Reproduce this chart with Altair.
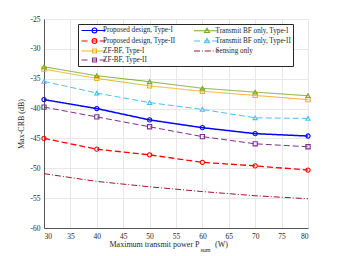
import altair as alt
import pandas as pd

power = [30, 40, 50, 60, 70, 80]
series_names = [
    "Proposed design, Type-I",
    "Proposed design, Type-II",
    "ZF-BF, Type-I",
    "ZF-BF, Type-II",
    "Transmit BF only, Type-I",
    "Transmit BF only, Type-II",
    "Sensing only",
]
prop1 = [-38.5, -40.0, -41.9, -43.2, -44.2, -44.6]
prop2 = [-45.0, -46.8, -47.75, -49.0, -49.6, -50.3]
zf1 = [-33.4, -34.95, -36.2, -37.1, -37.8, -38.5]
zf2 = [-39.75, -41.4, -43.05, -44.7, -45.9, -46.4]
tbf1 = [-33.0, -34.5, -35.5, -36.6, -37.25, -37.85]
tbf2 = [-35.45, -37.4, -39.0, -40.15, -41.55, -41.65]
sens = [-50.9, -52.2, -53.1, -53.9, -54.6, -55.1]

values = {
    "Proposed design, Type-I": prop1,
    "Proposed design, Type-II": prop2,
    "ZF-BF, Type-I": zf1,
    "ZF-BF, Type-II": zf2,
    "Transmit BF only, Type-I": tbf1,
    "Transmit BF only, Type-II": tbf2,
    "Sensing only": sens,
}
colors = {
    "Proposed design, Type-I": "#0000FF",
    "Proposed design, Type-II": "#FF0000",
    "ZF-BF, Type-I": "#EDB120",
    "ZF-BF, Type-II": "#7E2F8E",
    "Transmit BF only, Type-I": "#77AC30",
    "Transmit BF only, Type-II": "#4DBEEE",
    "Sensing only": "#A2142F",
}
dashes = {
    "Proposed design, Type-I": [1, 0],
    "Proposed design, Type-II": [6, 3],
    "ZF-BF, Type-I": [1, 0],
    "ZF-BF, Type-II": [6, 3],
    "Transmit BF only, Type-I": [1, 0],
    "Transmit BF only, Type-II": [6, 3],
    "Sensing only": [6, 2, 1, 2],
}
widths = {
    "Proposed design, Type-I": 1.5,
    "Proposed design, Type-II": 1.3,
    "ZF-BF, Type-I": 1.0,
    "ZF-BF, Type-II": 1.0,
    "Transmit BF only, Type-I": 1.0,
    "Transmit BF only, Type-II": 1.0,
    "Sensing only": 1.0,
}
markers = {
    "Proposed design, Type-I": "circle",
    "Proposed design, Type-II": "circle",
    "ZF-BF, Type-I": "square",
    "ZF-BF, Type-II": "square",
    "Transmit BF only, Type-I": "triangle-up",
    "Transmit BF only, Type-II": "triangle-up",
}

# legend glyphs (line + marker) as custom symbol paths, drawn in pixels then scaled to unit space
SYM = 49
K = (SYM ** 0.5) / 2.0
OFF = -1.5  # glyph shift in px


def u(v):
    return round(v / K, 4)


def seg(a, b):
    return f"M{u(a + OFF)},0H{u(b + OFF)}"


MC = 12.0 + OFF  # marker center (px from symbol center)
R = 2.4
circ = f"M{u(MC - R)},0A{u(R)},{u(R)} 0 1,0 {u(MC + R)},0A{u(R)},{u(R)} 0 1,0 {u(MC - R)},0"
sq = f"M{u(MC - 2)},{u(-2)}H{u(MC + 2)}V{u(2)}H{u(MC - 2)}Z"
tri = f"M{u(MC)},{u(-2.6)}L{u(MC + 2.5)},{u(1.8)}H{u(MC - 2.5)}Z"
solid = seg(-1, 23)
dashed = seg(-1, 5) + seg(12 - 2.5, 12 + 2.5) + seg(17, 23)
dashdot = seg(-1, 5) + seg(7, 7.8) + seg(9.8, 15.8) + seg(17.8, 18.6) + seg(20.6, 23)
glyphs = {
    "Proposed design, Type-I": solid + circ,
    "Proposed design, Type-II": dashed + circ,
    "ZF-BF, Type-I": solid + sq,
    "ZF-BF, Type-II": dashed + sq,
    "Transmit BF only, Type-I": solid + tri,
    "Transmit BF only, Type-II": dashed + tri,
    "Sensing only": dashdot,
}

rows = []
for s in series_names:
    for p, v in zip(power, values[s]):
        rows.append({"P": p, "CRB": v, "series": s})
df = pd.DataFrame(rows)
one = pd.DataFrame({"k": [0]})

FONT = "Liberation Serif"
TXT = "#262626"

xs = alt.X("P:Q", scale=alt.Scale(domain=[30, 80], nice=False),
           axis=alt.Axis(values=list(range(30, 81, 5)), title=None, labelFont=FONT,
                         labelFontSize=7.5, labelColor=TXT, ticks=False, labelPadding=4,
                         gridColor="#e8e8e8", domainColor="#555555"))
ys = alt.Y("CRB:Q", scale=alt.Scale(domain=[-60, -25], nice=False),
           axis=alt.Axis(values=list(range(-60, -24, 5)), title="Max-CRB (dB)",
                         titleFont=FONT, titleFontSize=8, titleFontWeight="normal",
                         titleColor=TXT, titlePadding=5,
                         labelExpr="'' + datum.value", labelFont=FONT,
                         labelFontSize=7.5, labelColor=TXT, ticks=False, labelPadding=4,
                         gridColor="#e8e8e8", domainColor="#555555"))

color_scale = alt.Scale(domain=series_names, range=[colors[s] for s in series_names])

layers = []
for s in series_names:
    sub = alt.Chart(df).transform_filter(alt.datum.series == s).mark_line(
        color=colors[s], strokeDash=dashes[s], strokeWidth=widths[s]
    ).encode(x=xs, y=ys)
    layers.append(sub)
    if s in markers:
        pts = alt.Chart(df).transform_filter(alt.datum.series == s).mark_point(
            shape=markers[s], color=colors[s], filled=False, size=18, strokeWidth=1.1, opacity=1
        ).encode(x=xs, y=ys)
        layers.append(pts)

legend_layer = alt.Chart(df).mark_point(opacity=0, size=SYM).encode(
    x=xs, y=ys,
    color=alt.Color("series:N", scale=color_scale,
                    legend=alt.Legend(title=None, orient="none", legendX=34, legendY=5,
                                      columns=2, columnPadding=15.5, rowPadding=0,
                                      labelFont=FONT, labelFontSize=7.2,
                                      labelColor=TXT, labelOffset=14.5, symbolSize=SYM,
                                      symbolStrokeWidth=1.1, symbolOpacity=1,
                                      symbolFillColor="transparent", symbolType="circle",
                                      strokeColor=TXT, fillColor="white", padding=1.5,
                                      labelLimit=200)),
    shape=alt.Shape("series:N", scale=alt.Scale(domain=series_names,
                                                range=[glyphs[s] for s in series_names]),
                    legend=alt.Legend(title=None, orient="none", legendX=34, legendY=5, columns=2)),
)

title_main = alt.Chart(one).mark_text(text="Maximum transmit power P", align="right", baseline="middle",
                                      font=FONT, fontSize=8, color=TXT).encode(
    x=alt.value(155.5), y=alt.value(226))
title_sub = alt.Chart(one).mark_text(text="sum", align="left", baseline="middle",
                                     font=FONT, fontSize=6, color=TXT).encode(
    x=alt.value(156.5), y=alt.value(230.5))
title_end = alt.Chart(one).mark_text(text="(W)", align="left", baseline="middle",
                                     font=FONT, fontSize=8, color=TXT).encode(
    x=alt.value(171), y=alt.value(226))

chart = alt.layer(*layers, legend_layer, title_main, title_sub, title_end).properties(
    width=264, height=209,
    autosize=alt.AutoSizeParams(type="none"),
    padding={"left": 36, "top": 11, "right": 25, "bottom": 28},
).configure_view(stroke="#555555", strokeWidth=1).configure(background="white")

chart.save("out.html", embed_options={"renderer": "svg", "actions": False})
